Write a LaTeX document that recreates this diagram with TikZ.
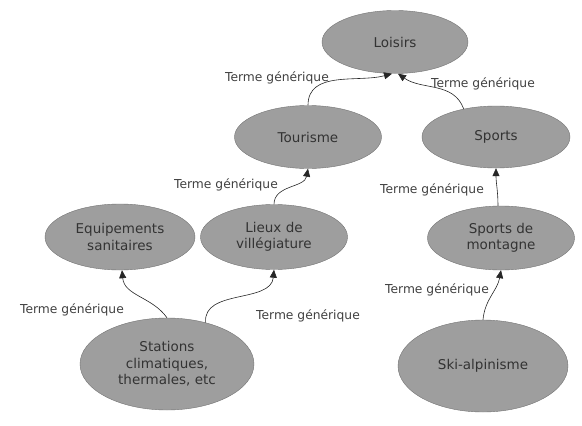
\documentclass[tikz,border=0pt]{standalone}
\usepackage{fontspec}
\setmainfont{DejaVu Sans}
\usetikzlibrary{shapes.geometric,arrows.meta}
\begin{document}
\begin{tikzpicture}[x=1pt,y=-1pt,
  concept/.style={ellipse,draw=black!55,fill=black!38,text=black!80,inner sep=0pt,
    align=center,font=\fontsize{13.5}{16.5}\selectfont},
  rel/.style={-{Triangle[length=8pt,width=7pt]},semithick,black!85},
  lbl/.style={font=\fontsize{12.3}{14}\selectfont,text=black!75}]
\useasboundingbox (0,0) rectangle (582,426);
\node[concept,minimum width=146,minimum height=63] (loisirs) at (395,42) {Loisirs};
\node[concept,minimum width=147,minimum height=63] (tourisme) at (308,137) {Tourisme};
\node[concept,minimum width=148,minimum height=62] (sports) at (496,137) {Sports};
\node[concept,minimum width=150,minimum height=66] (equip) at (120,237) {Equipements\\sanitaires};
\node[concept,minimum width=147,minimum height=65] (lieux) at (274,237) {Lieux de\\villégiature};
\node[concept,minimum width=147,minimum height=64] (montagne) at (501,238) {Sports de\\montagne};
\node[concept,minimum width=174,minimum height=92] (stations) at (167,364) {Stations\\climatiques,\\thermales, etc};
\node[concept,minimum width=170,minimum height=92] (ski) at (483,366) {Ski-alpinisme};
% relations
\draw[rel] (tourisme.north) to[out=90,in=195] ([xshift=-3]loisirs.south);
\draw[rel] (sports.139) to[out=110,in=-35] ([xshift=3]loisirs.south);
\draw[rel] (lieux.north) to[out=90,in=-100] (tourisme.south);
\draw[rel] ([xshift=-3]montagne.north) to[out=90,in=-90] (sports.south);
\draw[rel] (stations.north) to[out=125,in=-85] ([xshift=2]equip.south);
\draw[rel] (stations.47) to[out=95,in=-95] (lieux.south);
\draw[rel] (ski.north) to[out=85,in=-100] (montagne.south);
\node[lbl] (l1) at (277,78) {Terme générique};
\node[lbl] (l2) at (483,84) {Terme générique};
\node[lbl] (l3) at (226,185) {Terme générique};
\node[lbl] (l4) at (432,190) {Terme générique};
\node[lbl] (l5) at (72,310) {Terme générique};
\node[lbl] (l6) at (308,316) {Terme générique};
\node[lbl] (l7) at (437,290) {Terme générique};
\end{tikzpicture}
\end{document}
